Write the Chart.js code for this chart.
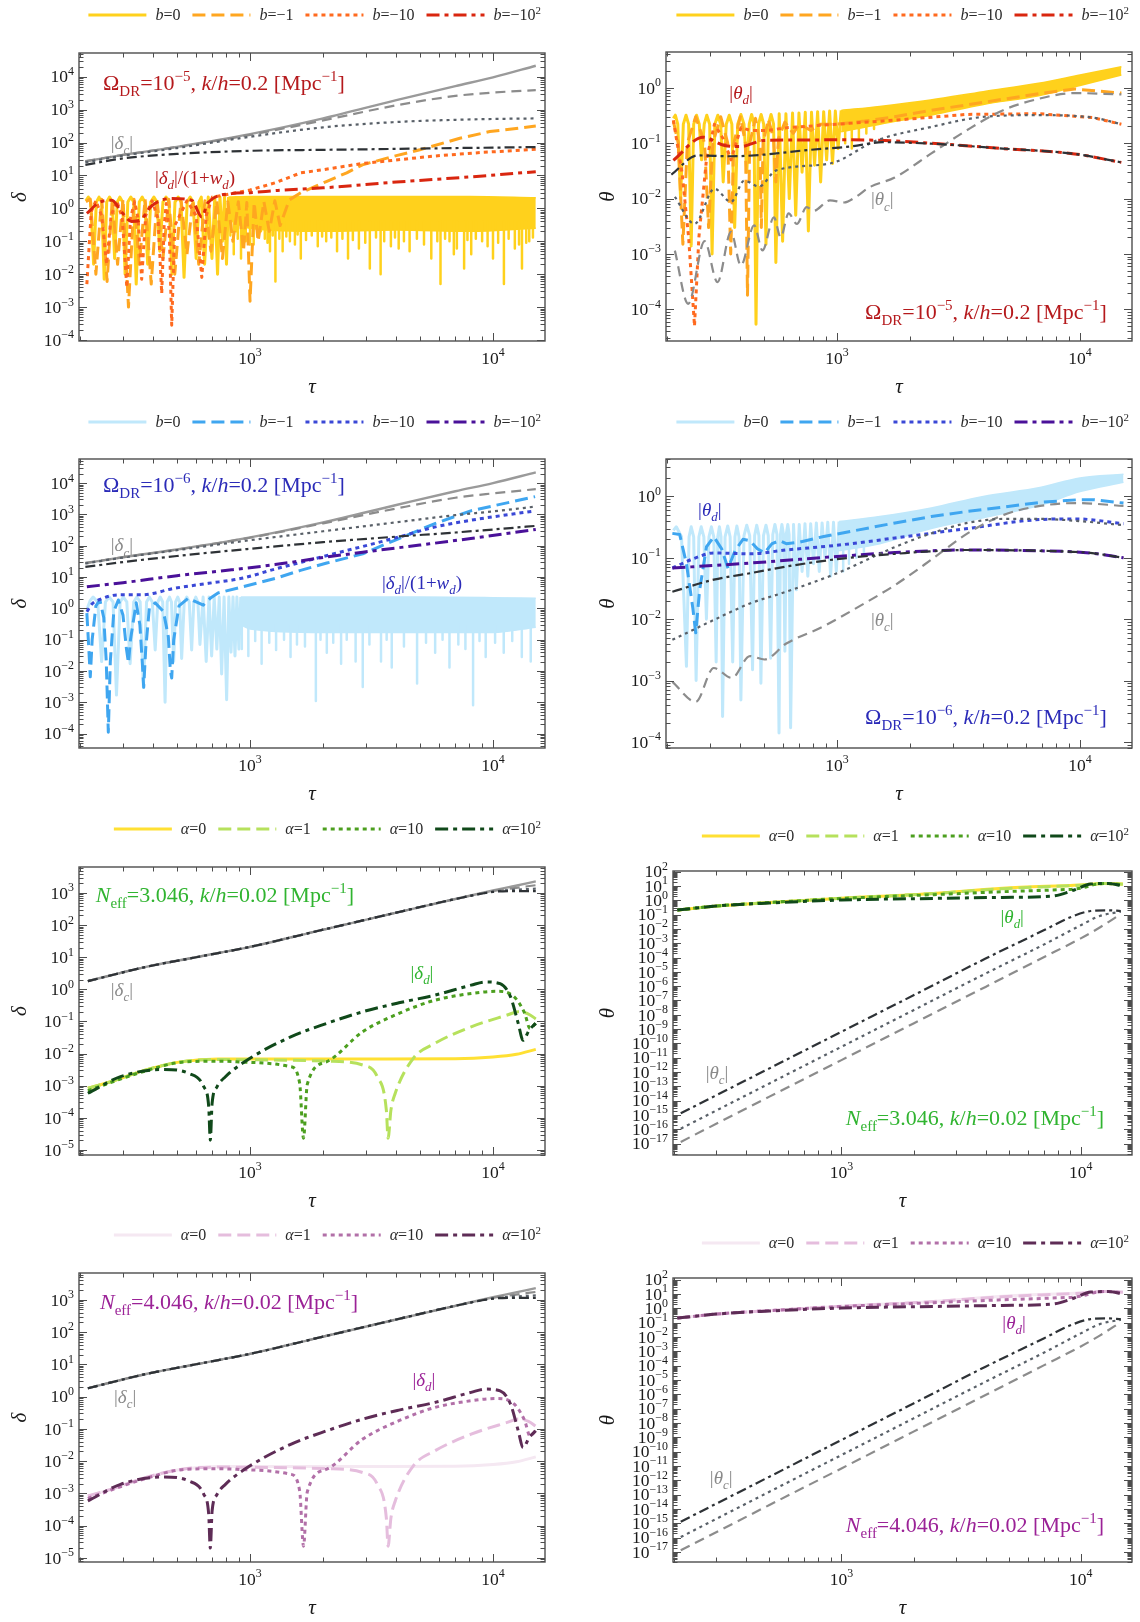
<!DOCTYPE html>
<html>
<head>
<meta charset="utf-8">
<script src="https://cdn.jsdelivr.net/npm/chart.js@4.4.1/dist/chart.umd.min.js"></script>
<style>
  html, body { margin: 0; padding: 0; background: #fff; overflow: hidden; }
  body { position: relative; width: 1140px; height: 1622px; }
  canvas { position: absolute; }
</style>
</head>
<body>
<script>
// ---------- data ----------
const TAU_RANGE = [197.7, 16370];
const TAU_LABELS = [1000, 10000];
const TAU_GRID = [210, 300, 500, 1000, 2000, 4000, 7000, 10000, 15000];

// panel 1: delta, Omega_DR = 1e-5
const P1_C0 = [27, 42, 74, 180, 540, 1950, 5200, 9500, 21500];
const P1_C1 = [27, 42, 73, 170, 470, 1350, 2600, 3300, 3900];
const P1_C10 = [25, 40, 68, 150, 290, 420, 490, 520, 540];
const P1_C100 = [21, 33, 45, 56, 60, 64, 68, 70, 73];
const P1_B0 = [[211,1.7],[216,2.2],[221,1.55],[227,0.02],[233,1.55],[239,2.2],[245,1.55],[251,0.007],[257,1.55],[264,2.2],[271,1.55],[277,0.03],[284,1.55],[291,2.2],[299,1.55],[306,0.01],[314,1.55],[323,2.2],[332,1.55],[340,0.005],[350,1.55],[360,2.2],[369,1.55],[379,0.02],[390,1.55],[402,2.2],[414,1.55],[425,0.05],[438,1.55],[451,2.2],[464,1.55],[477,0.01],[491,1.55],[506,2.2],[520,1.55],[535,0.008],[551,1.55],[567,2.2],[583,1.55],[600,0.03],[616,1.55],[630,2.2],[650,0.02],[673,2.2],[697,0.03],[716,2.2],[735,0.01],[752,2.2],[770,0.1],[785,2.2],[800,0.02],[815,2.2]];
const P1_B0_BAND = [[815,2.2,0.45],[1000,2.3,0.25],[2000,2.3,0.2],[4000,2.3,0.22],[8000,2.3,0.2],[15000,2.1,0.25]];
const P1_B0_SPIKES = [[830,0.15],[857,0.04],[875,0.2],[890,0.12],[918,0.03],[940,0.15],[960,0.1],[1000,0.08],[1035,0.08],[1070,0.15],[1109,0.2],[1150,0.12],[1180,0.09],[1208,0.05],[1240,0.15],[1272,0.006],[1320,0.12],[1362,0.05],[1410,0.14],[1459,0.1],[1530,0.08],[1570,0.16],[1618,0.03],[1700,0.11],[1795,0.15],[1900,0.07],[1980,0.14],[2058,0.1],[2160,0.13],[2281,0.05],[2400,0.12],[2531,0.03],[2650,0.11],[2806,0.06],[2980,0.09],[3112,0.015],[3300,0.13],[3447,0.01],[3566,0.1],[3800,0.07],[3950,0.13],[4091,0.06],[4300,0.1],[4537,0.05],[4862,0.12],[5200,0.08],[5572,0.03],[5900,0.1],[6080,0.005],[6350,0.12],[6622,0.1],[6900,0.04],[7100,0.06],[7605,0.015],[7850,0.11],[8135,0.04],[8500,0.12],[9020,0.1],[9500,0.07],[10000,0.03],[10500,0.09],[11090,0.005],[11600,0.12],[12300,0.06],[12800,0.08],[13160,0.015],[13700,0.09],[14100,0.1],[14600,0.13]];
const P1_B1 = [[211,1.6],[220,1.9],[232,0.01],[245,1.9],[258,0.006],[271,1.9],[285,0.02],[300,1.9],[316,0.001],[333,1.9],[350,0.02],[370,1.9],[392,0.005],[414,1.9],[438,0.03],[463,1.9],[490,0.01],[520,1.8],[550,0.04],[582,1.8],[615,0.02],[652,1.7],[690,0.05],[730,1.7],[770,0.03],[810,1.6],[850,0.1],[895,1.6],[940,0.05],[970,1.5],[1000,0.0015],[1040,1.5],[1080,0.1],[1140,1.6],[1200,0.2],[1265,1.7],[1330,0.3],[1450,1.8],[1620,3.0],[2060,6.5],[2500,12],[2900,21],[4000,40],[5000,60],[7300,135],[9700,215],[15000,316]];
const P1_B10 = [[213,0.005],[222,0.8],[232,1.7],[245,0.6],[257,0.02],[268,0.6],[283,1.7],[298,0.5],[311,0.004],[322,0.5],[335,1.6],[346,0.5],[358,0.007],[372,0.6],[395,1.7],[418,0.5],[433,0.0026],[443,0.3],[452,1.4],[465,0.2],[476,0.00028],[490,0.3],[550,1.7],[600,0.6],[633,0.008],[660,0.6],[700,2.2],[840,2.8],[1000,3.6],[1270,6],[1620,12],[2000,15],[2900,23],[5760,39],[9000,50],[15000,62]];
const P1_B100 = [[213,0.7],[241,1.55],[270,1.75],[295,0.8],[325,0.4],[352,0.43],[394,1.2],[476,2.0],[576,1.75],[633,0.55],[672,1.5],[840,2.8],[1000,3.0],[1300,3.5],[2000,4.2],[4000,6.3],[8000,9],[15000,13]];

// panel 2: theta, Omega_DR = 1e-5
const P2_C1 = [[215,0.00115],[244,0.000126],[285,0.0017],[322,0.00031],[366,0.0025],[402,0.00062],[456,0.0033],[493,0.00116],[550,0.0046],[586,0.002],[632,0.0054],[683,0.0035],[750,0.007],[800,0.006],[935,0.0093],[1070,0.0085],[1186,0.0105],[1360,0.016],[1727,0.024],[2427,0.064],[3413,0.17],[4800,0.39],[6750,0.63],[9500,0.8],[14800,0.76]];
const P2_C10 = [[215,0.0107],[259,0.0035],[313,0.015],[366,0.0087],[415,0.021],[477,0.0165],[560,0.032],[937,0.043],[1455,0.112],[2427,0.195],[4050,0.3],[6750,0.32],[11250,0.29],[14800,0.22]];
const P2_C100 = [[208,0.027],[267,0.06],[366,0.058],[500,0.062],[730,0.074],[1130,0.087],[1546,0.104],[2427,0.098],[4800,0.08],[9500,0.064],[14800,0.045]];
const P2_B0 = [[212,0.28],[216,0.32],[221,0.22],[227,0.01],[233,0.22],[239,0.32],[245,0.22],[251,0.0014],[257,0.22],[264,0.32],[271,0.22],[277,0.05],[284,0.22],[291,0.32],[299,0.22],[306,0.001],[314,0.22],[323,0.32],[332,0.22],[340,0.02],[350,0.22],[360,0.32],[369,0.22],[379,0.003],[390,0.22],[402,0.33],[414,0.22],[425,0.03],[435,0.22],[445,0.33],[455,0.22],[464,0.000054],[475,0.22],[487,0.33],[499,0.22],[510,0.0015],[522,0.22],[535,0.33],[548,0.22],[560,0.0007],[578,0.34],[597,0.0017],[616,0.34],[636,0.01],[656,0.35],[676,0.005],[697,0.35],[718,0.03],[740,0.36],[762,0.0026],[785,0.36],[808,0.04],[832,0.37],[856,0.02],[881,0.37],[906,0.05],[932,0.38],[958,0.043],[984,0.38],[1010,0.08],[1040,0.39]];
const P2_B0_BAND = [[1040,0.39,0.16],[1500,0.46,0.22],[2427,0.6,0.32],[4000,0.85,0.5],[6750,1.2,0.72],[10000,1.7,1.1],[14800,2.4,1.7]];
const P2_B0_SPIKES = [[1080,0.1],[1150,0.08],[1230,0.12],[1320,0.15],[1420,0.18]];
const P2_B1 = [[212,0.25],[222,0.1],[232,0.0015],[242,0.1],[262,0.3],[285,0.1],[296,0.003],[308,0.1],[332,0.3],[355,0.1],[365,0.001],[376,0.1],[400,0.3],[420,0.1],[428,0.00018],[437,0.1],[462,0.28],[481,0.1],[488,0.003],[496,0.1],[522,0.27],[548,0.12],[560,0.02],[574,0.12],[610,0.24],[660,0.15],[700,0.22],[780,0.17],[850,0.22],[1000,0.22],[1300,0.25],[1727,0.3],[2427,0.39],[4050,0.55],[6750,0.78],[9500,0.95],[14800,0.8]];
const P2_B10 = [[212,0.26],[230,0.03],[245,0.002],[259,0.00005],[270,0.002],[290,0.05],[313,0.22],[340,0.12],[366,0.05],[402,0.19],[440,0.17],[520,0.17],[620,0.19],[1000,0.22],[1727,0.26],[3413,0.33],[6750,0.34],[11250,0.29],[14800,0.22]];
const P2_B100 = [[212,0.049],[281,0.128],[344,0.091],[402,0.087],[500,0.112],[700,0.114],[1000,0.115],[1727,0.11],[2427,0.1],[4800,0.08],[9500,0.064],[14800,0.045]];

// panel 3: delta, Omega_DR = 1e-6
const P3_C0 = [28, 43, 76, 185, 560, 2000, 5500, 10000, 22000];
const P3_C1 = [28, 43, 75, 180, 520, 1550, 3400, 4700, 6400];
const P3_C10 = [27, 42, 72, 150, 290, 560, 950, 1250, 1780];
const P3_C100 = [21, 30, 47, 80, 130, 195, 265, 330, 430];
const P3_B0 = [[213,0.9],[220,1.8],[226,2.3],[236,1.6],[245,0.02],[254,1.6],[263,2.3],[273,1.6],[282,0.0017],[292,1.6],[301,2.3],[311,1.6],[321,0.017],[332,1.6],[342,2.3],[353,1.6],[364,0.003],[375,1.6],[385,2.3],[396,1.6],[407,0.047],[417,1.6],[427,2.3],[437,1.6],[447,0.001],[456,1.6],[466,2.3],[475,1.6],[485,0.02],[494,1.6],[504,2.3],[513,1.6],[523,0.025],[536,1.6],[549,2.3],[562,1.6],[575,0.047],[587,1.6],[598,2.3],[610,1.6],[622,0.07],[641,2.3],[660,0.02],[678,2.3],[695,0.03],[712,2.3],[730,0.05],[747,2.3],[764,0.008],[782,2.3],[801,0.0012],[818,2.3],[835,0.04],[851,2.3],[867,0.03],[883,2.3],[900,0.05],[916,2.3]];
const P3_B0_BAND = [[916,2.3,0.3],[1000,2.3,0.22],[2000,2.3,0.17],[5000,2.3,0.17],[10000,2.2,0.17],[15000,2.1,0.25]];
const P3_B0_SPIKES = [[925,0.05],[984,0.03],[1050,0.09],[1116,0.017],[1200,0.08],[1280,0.047],[1380,0.1],[1468,0.028],[1560,0.07],[1683,0.06],[1866,0.0011],[1950,0.1],[2070,0.038],[2200,0.08],[2370,0.017],[2500,0.1],[2720,0.02],[2910,0.0031],[3100,0.07],[3460,0.02],[3650,0.1],[3830,0.013],[4300,0.06],[4870,0.004],[5300,0.08],[5780,0.038],[6200,0.1],[6620,0.013],[7200,0.07],[7700,0.05],[8280,0.0008],[8800,0.09],[9330,0.028],[10200,0.08],[11070,0.038],[12000,0.09],[13140,0.028],[14300,0.02]];
const P3_B1 = [[213,0.7],[217,0.05],[220,0.0065],[224,0.1],[232,1.2],[241,1.85],[250,0.5],[256,0.02],[261,0.00011],[266,0.02],[275,0.8],[287,1.85],[300,0.6],[310,0.05],[316,0.018],[322,0.1],[340,1.5],[352,0.3],[360,0.02],[365,0.003],[372,0.05],[385,1.0],[407,1.5],[440,0.8],[461,0.125],[470,0.01],[476,0.006],[485,0.1],[510,1.2],[557,2.1],[600,1.6],[642,1.27],[690,2.2],[738,3.1],[924,4.8],[1270,9],[1600,16],[2070,28],[2910,55],[4100,170],[5800,520],[8100,1300],[14900,3700]];
const P3_B10 = [[213,0.78],[224,1.4],[238,1.85],[287,2.7],[358,2.7],[491,4.4],[674,6.3],[924,9.1],[1268,18],[2000,45],[2910,95],[4100,190],[5800,400],[8100,650],[14900,1300]];
const P3_B100 = [[213,4.9],[300,6.6],[500,11],[840,17],[1268,25],[2000,42],[2910,62],[5000,105],[8100,170],[15000,330]];

// panel 4: theta, Omega_DR = 1e-6
const P4_C1 = [[210,0.00095],[262,0.00045],[311,0.0016],[369,0.0011],[438,0.0025],[503,0.0022],[618,0.004],[872,0.0075],[1229,0.016],[1733,0.036],[2443,0.093],[3445,0.25],[4857,0.5],[6850,0.7],[9660,0.78],[15100,0.7]];
const P4_C10 = [[210,0.0046],[311,0.0097],[438,0.018],[618,0.028],[1000,0.056],[1733,0.15],[2443,0.25],[3445,0.37],[4857,0.43],[6850,0.43],[9660,0.4],[15100,0.34]];
const P4_C100 = [[210,0.028],[311,0.044],[438,0.056],[618,0.072],[1000,0.095],[1733,0.116],[3445,0.134],[6850,0.13],[11000,0.12],[15100,0.1]];
const P4_B0 = [[212,0.28],[218,0.32],[229,0.22],[240,0.0017],[246,0.22],[251,0.32],[257,0.22],[263,0.001],[270,0.22],[276,0.32],[283,0.22],[290,0.01],[297,0.22],[304,0.32],[311,0.22],[318,0.002],[323,0.22],[328,0.32],[333,0.22],[338,0.00026],[346,0.22],[355,0.33],[363,0.22],[372,0.002],[380,0.22],[387,0.33],[395,0.22],[402,0.00048],[414,0.23],[425,0.34],[437,0.23],[449,0.0015],[458,0.23],[467,0.34],[477,0.23],[486,0.0009],[498,0.23],[510,0.34],[521,0.23],[533,0.0023],[544,0.24],[555,0.35],[566,0.24],[577,0.00014],[585,0.24],[593,0.35],[602,0.24],[610,0.003],[618,0.24],[627,0.35],[635,0.24],[644,0.00017],[662,0.35],[680,0.03],[699,0.35],[718,0.06],[738,0.36],[758,0.05],[779,0.36],[800,0.08],[822,0.37],[845,0.06],[868,0.37],[892,0.1],[916,0.38],[941,0.05],[967,0.38],[993,0.06],[1020,0.39]];
const P4_B0_BAND = [[1020,0.39,0.13],[1500,0.47,0.17],[2443,0.65,0.3],[4000,1.0,0.45],[6850,1.4,0.72],[10000,2.0,1.2],[15100,2.3,1.7]];
const P4_B0_SPIKES = [[1060,0.06],[1120,0.08],[1200,0.1],[1290,0.12]];
const P4_B1 = [[210,0.25],[225,0.24],[240,0.08],[255,0.015],[262,0.006],[272,0.03],[290,0.15],[311,0.22],[335,0.14],[356,0.067],[380,0.13],[410,0.2],[438,0.19],[470,0.14],[503,0.12],[540,0.17],[580,0.19],[618,0.17],[700,0.18],[872,0.22],[1229,0.285],[1733,0.37],[2443,0.47],[3445,0.57],[4857,0.67],[6850,0.8],[9660,0.88],[11500,0.88],[15100,0.78]];
const P4_B10 = [[210,0.068],[262,0.1],[311,0.12],[438,0.116],[618,0.134],[1000,0.16],[1733,0.21],[3445,0.3],[6850,0.42],[9660,0.43],[15100,0.36]];
const P4_B100 = [[210,0.068],[438,0.082],[1000,0.105],[1733,0.122],[3445,0.134],[6850,0.13],[11000,0.12],[15100,0.1]];

// panels 5 and 7: delta, N_eff = 3.046 / 4.046 (curves coincide in the figure)
const P5_TAU = [215, 373, 600, 1000, 2000, 4000, 7000, 10000, 12000, 15000];
const P5_C0 = [1.8, 5, 10, 21, 72, 245, 650, 1200, 1600, 2300];
const P5_C1 = [1.8, 5, 10, 21, 72, 245, 650, 1150, 1400, 1750];
const P5_C10 = [1.8, 5, 10, 21, 72, 245, 650, 1100, 1250, 1360];
const P5_C100 = [1.8, 5, 10, 21, 72, 245, 650, 1080, 1150, 1150];
const P5_A0 = [[215,0.00083],[265,0.0013],[373,0.0031],[525,0.0056],[740,0.0068],[1000,0.0068],[3000,0.0068],[7000,0.0069],[10000,0.0078],[12500,0.0095],[15000,0.0135]];
const P5_A1 = [[215,0.00083],[265,0.0013],[373,0.0031],[525,0.0056],[740,0.0065],[1000,0.0064],[2070,0.0058],[2910,0.0044],[3340,0.0019],[3640,0.00017],[3700,0.000023],[3800,0.00017],[3960,0.00058],[4700,0.0071],[5780,0.021],[8130,0.068],[11450,0.158],[12700,0.2],[14000,0.17],[15000,0.12]];
const P5_A10 = [[215,0.0007],[373,0.0029],[525,0.0054],[740,0.0058],[1000,0.0053],[1470,0.0039],[1600,0.0012],[1660,0.000023],[1720,0.0011],[2070,0.0056],[2910,0.048],[4100,0.178],[5780,0.46],[8130,0.74],[10300,0.87],[12200,0.59],[13500,0.18],[14200,0.06],[15000,0.09]];
const P5_A100 = [[215,0.00058],[293,0.0019],[442,0.0032],[560,0.0024],[645,0.00093],[676,0.00022],[686,0.00002],[698,0.00028],[730,0.0009],[792,0.0019],[1000,0.0071],[1470,0.033],[2070,0.087],[2910,0.2],[4100,0.38],[5780,0.66],[8130,1.35],[9330,1.7],[10700,1.5],[11800,0.59],[12700,0.087],[13300,0.026],[14100,0.054],[15000,0.087]];

// panels 6 and 8: theta, N_eff = 3.046 / 4.046
const P6_A0 = [[206,0.21],[300,0.4],[500,0.7],[1000,1.4],[2430,3],[4700,7],[10000,12],[12500,15],[15000,14]];
const P6_A1 = [[206,0.21],[300,0.4],[500,0.7],[1000,1.4],[2430,3],[4700,6.5],[10000,11.5],[12500,15],[15000,13.5]];
const P6_A10 = [[206,0.21],[300,0.4],[500,0.7],[1000,1.35],[2430,2.5],[4700,4],[7600,5.3],[10000,7],[11500,13],[13000,15],[15000,12]];
const P6_A100 = [[206,0.21],[300,0.4],[500,0.65],[1000,1.05],[2430,1.36],[4700,1.6],[7600,2.0],[9400,5.3],[11000,13.7],[13000,15],[15000,10]];
const P6_C1 = [[213,1.3e-17],[500,1.9e-14],[1000,6.8e-12],[2000,2.5e-9],[4000,8.9e-7],[7000,1.05e-4],[10000,2.2e-3],[12000,0.0126],[14700,0.11]];
const P6_C10 = [[213,1.1e-16],[500,1.6e-13],[1000,5.8e-11],[2000,2.1e-8],[4000,7.6e-6],[7000,8e-4],[10000,0.018],[12000,0.08],[14700,0.16]];
const P6_C100 = [[213,1.3e-15],[500,1.8e-12],[1000,6.5e-10],[2000,2.3e-7],[4000,8.5e-5],[7000,8e-3],[9000,0.063],[11000,0.18],[13000,0.2],[14700,0.18]];

const B_LABELS = ['*b*=0', '*b*=−1', '*b*=−10', '*b*=−10^{2}'];
const A_LABELS = ['*α*=0', '*α*=1', '*α*=10', '*α*=10^{2}'];

// ---------- styles ----------
const FONT = '"Liberation Serif", "DejaVu Serif", serif';
const PANEL_H = 410, X_AXIS_H = 62;
const TICK_SIZE = 17.5, LEGEND_SIZE = 16;
const DASHES = [[], [13, 6], [4, 4], [13, 5, 4, 5]];
const GREY = [
  {color: '#9a9a9a', dash: [], width: 2.4},
  {color: '#8c8c8c', dash: [10, 6], width: 2.2},
  {color: '#596068', dash: [3, 4], width: 2.2},
  {color: '#2e3236', dash: [10, 4, 3, 4], width: 2.2}
];
const family = cols => cols.map((c, i) => ({color: c, dash: DASHES[i], width: 3}));
const RED = family(['#ffd11c', '#ffa620', '#ff6a1f', '#d9260f']);
const BLUE = family(['#c0e8fb', '#3fa6f0', '#3a48d6', '#4a1199']);
const GREEN = family(['#ffe033', '#b6e15c', '#4c9f1f', '#10491a']);
const PINK = family(['#f5e8f2', '#e5bddd', '#b270a8', '#5e2c56']);
const TXT = {red: '#b5191c', blue: '#2b2bb8', green: '#30b430', purple: '#9b2297', grey: '#8a8a8a'};

// ---------- helpers ----------
const pts = pairs => pairs.map(([x, y]) => ({x, y}));
const zip = (xs, ys) => xs.map((x, i) => ({x, y: ys[i]}));
const expText = v => { const e = Math.round(Math.log10(v)); return '10^{' + (e < 0 ? '−' + (-e) : e) + '}'; };

function line(data, st, smooth, extra) {
  return Object.assign({
    data, borderColor: st.color, backgroundColor: st.color, borderDash: st.dash, borderWidth: st.width,
    pointRadius: 0, pointHoverRadius: 0, fill: false, tension: 0, spanGaps: false,
    borderJoinStyle: 'round', cubicInterpolationMode: smooth ? 'monotone' : 'default'
  }, extra || {});
}
function band(rows, st) {
  const s = {color: st.color, dash: [], width: 1.5};
  return [
    line(rows.map(r => ({x: r[0], y: r[1]})), s, true),
    line(rows.map(r => ({x: r[0], y: r[2]})), s, true, {fill: '-1'})
  ];
}
function spikes(pairs, base, st) {
  const out = [];
  pairs.forEach(([x, tip]) => out.push({x, y: base}, {x, y: tip}, {x, y: null}));
  return line(out, {color: st.color, dash: [], width: 2.5}, false);
}

function parseRich(str) {
  const parts = [];
  let it = false, i = 0;
  const isMark = k => (str[k] === '_' || str[k] === '^') && str[k + 1] === '{';
  while (i < str.length) {
    if (str[i] === '*') { it = !it; i++; continue; }
    if (isMark(i)) {
      const j = str.indexOf('}', i);
      parts.push({t: str.slice(i + 2, j), it, sub: str[i] === '_', sup: str[i] === '^'});
      i = j + 1; continue;
    }
    let j = i;
    while (j < str.length && str[j] !== '*' && !isMark(j)) j++;
    parts.push({t: str.slice(i, j), it});
    i = j;
  }
  return parts;
}
function layoutRich(ctx, parts, size) {
  let w = 0;
  const segs = parts.map(p => {
    const s = (p.sub || p.sup) ? size * 0.68 : size;
    const font = (p.it ? 'italic ' : '') + s.toFixed(1) + 'px ' + FONT;
    ctx.font = font;
    const m = ctx.measureText(p.t).width;
    w += m;
    return {p, font, m};
  });
  return {segs, w};
}
function drawRich(ctx, text, x, y, size, color, align) {
  const {segs, w} = layoutRich(ctx, parseRich(text), size);
  let cx = align === 'right' ? x - w : align === 'center' ? x - w / 2 : x;
  ctx.fillStyle = color;
  ctx.textBaseline = 'alphabetic';
  ctx.textAlign = 'left';
  const base = y + size * 0.33;
  segs.forEach(g => {
    ctx.font = g.font;
    const dy = g.p.sub ? size * 0.27 : g.p.sup ? -size * 0.42 : 0;
    ctx.fillText(g.p.t, cx, base + dy);
    cx += g.m;
  });
  return w;
}

// frame with inward ticks on all four sides, plus the power-of-ten tick labels
const framePlugin = {
  id: 'frame',
  afterDatasetsDraw(chart) {
    const {ctx, chartArea: a, scales: {x: xs, y: ys}} = chart;
    ctx.save();
    ctx.setLineDash([]);
    ctx.strokeStyle = '#4d4d4d';
    ctx.lineWidth = 1;
    const seg = (x1, y1, x2, y2) => { ctx.beginPath(); ctx.moveTo(x1, y1); ctx.lineTo(x2, y2); ctx.stroke(); };
    const eachLog = (min, max, fn) => {
      for (let e = Math.floor(Math.log10(min)); e <= Math.ceil(Math.log10(max)); e++) {
        for (let m = 1; m <= 9; m++) {
          const v = m * Math.pow(10, e);
          if (v >= min && v <= max) fn(v, m === 1);
        }
      }
    };
    eachLog(xs.min, xs.max, (v, major) => {
      const p = Math.round(xs.getPixelForValue(v)) + 0.5, L = major ? 8 : 4.5;
      seg(p, a.bottom, p, a.bottom - L); seg(p, a.top, p, a.top + L);
    });
    eachLog(ys.min, ys.max, (v, major) => {
      const p = Math.round(ys.getPixelForValue(v)) + 0.5, L = major ? 8 : 4.5;
      seg(a.left, p, a.left + L, p); seg(a.right, p, a.right - L, p);
    });
    ctx.lineWidth = 1.4;
    ctx.strokeRect(a.left, a.top, a.right - a.left, a.bottom - a.top);
    xs.ticks.forEach(t => drawRich(ctx, expText(t.value), xs.getPixelForValue(t.value), a.bottom + 17, TICK_SIZE, '#1a1a1a', 'center'));
    ys.ticks.forEach(t => drawRich(ctx, expText(t.value), a.left - 5, ys.getPixelForValue(t.value), TICK_SIZE, '#1a1a1a', 'right'));
    ctx.restore();
  }
};

// legend above the frame and the text notes inside it
function decorPlugin(p) {
  return {
    id: 'decor',
    afterDraw(chart) {
      const ctx = chart.ctx, a = chart.chartArea;
      ctx.save();
      let x = p.legRight;
      for (let i = p.legend.length - 1; i >= 0; i--) {
        const it = p.legend[i];
        const {w} = layoutRich(ctx, parseRich(it.text), LEGEND_SIZE);
        x -= w;
        drawRich(ctx, it.text, x, p.legY, LEGEND_SIZE, '#2a2a2a', 'left');
        x -= 9;
        ctx.strokeStyle = it.style.color;
        ctx.lineWidth = 3;
        ctx.setLineDash(it.style.dash);
        ctx.beginPath(); ctx.moveTo(x - 58, p.legY); ctx.lineTo(x, p.legY); ctx.stroke();
        x -= 58 + 12;
      }
      ctx.setLineDash([]);
      p.notes.forEach(n => {
        drawRich(ctx, n.text, a.left + n.fx * (a.right - a.left), a.top + n.fy * (a.bottom - a.top), n.size, n.color, n.align);
      });
      ctx.restore();
    }
  };
}

function buildPanel(p) {
  const cv = document.createElement('canvas');
  cv.width = 570; cv.height = PANEL_H;
  cv.style.left = p.left + 'px'; cv.style.top = p.top + 'px';
  document.body.appendChild(cv);
  const n = p.datasets.length;
  p.datasets.forEach((d, i) => { d.order = n - i; });
  const e0 = Math.ceil(Math.log10(p.yRange[0]) - 1e-9), e1 = Math.floor(Math.log10(p.yRange[1]) + 1e-9);
  const yTicks = [];
  for (let e = e0; e <= e1; e++) yTicks.push({value: Math.pow(10, e)});
  const titleFont = {family: FONT, size: 21, style: 'italic'};
  new Chart(cv, {
    type: 'line',
    data: {datasets: p.datasets},
    options: {
      responsive: false, animation: false, devicePixelRatio: 1,
      layout: {padding: {left: 0, right: 570 - p.areaRight, top: p.areaTop, bottom: PANEL_H - p.areaBottom - X_AXIS_H}},
      plugins: {legend: {display: false}, tooltip: {enabled: false}},
      scales: {
        x: {
          type: 'logarithmic', min: TAU_RANGE[0], max: TAU_RANGE[1],
          afterBuildTicks: s => { s.ticks = TAU_LABELS.map(v => ({value: v})); },
          afterFit: s => { s.height = X_AXIS_H; },
          ticks: {display: false, autoSkip: false},
          grid: {display: false, drawTicks: false}, border: {display: false},
          title: {display: true, text: 'τ', font: titleFont, color: '#1a1a1a', padding: {top: 0, bottom: 3}}
        },
        y: {
          type: 'logarithmic', min: p.yRange[0], max: p.yRange[1],
          afterBuildTicks: s => { s.ticks = yTicks.slice(); },
          afterFit: s => { s.width = p.areaLeft; },
          ticks: {display: false, autoSkip: false},
          grid: {display: false, drawTicks: false}, border: {display: false},
          title: {display: true, text: p.yTitle, font: titleFont, color: '#1a1a1a', padding: {top: p.yTitlePad, bottom: 0}}
        }
      }
    },
    plugins: [framePlugin, decorPlugin(p)]
  });
}

const legendOf = (labels, fam) => labels.map((t, i) => ({text: t, style: fam[i]}));
const greyDelta = (tau, c) => c.map((vals, i) => line(zip(tau, vals), GREY[i], true));
const main = (txt, fx, fy, color, align) => ({text: txt, fx, fy, size: 22, color, align});
const tag = (txt, fx, fy, color) => ({text: txt, fx, fy, size: 19, color, align: 'center'});
const DC = '|*δ_{c}*|', DD = '|*δ_{d}*|', TC = '|*θ_{c}*|', TD = '|*θ_{d}*|', DDW = '|*δ_{d}*|/(1+*w_{d}*)';
const OM5 = 'Ω_{DR}=10^{−5}, *k*/*h*=0.2 [Mpc^{−1}]';
const OM6 = 'Ω_{DR}=10^{−6}, *k*/*h*=0.2 [Mpc^{−1}]';
const NE3 = '*N*_{eff}=3.046, *k*/*h*=0.02 [Mpc^{−1}]';
const NE4 = '*N*_{eff}=4.046, *k*/*h*=0.02 [Mpc^{−1}]';

function deltaNeff(fam) {
  return [
    line(pts(P5_A0), fam[0], true), line(pts(P5_A1), fam[1], true),
    line(pts(P5_A10), fam[2], true), line(pts(P5_A100), fam[3], true),
    ...greyDelta(P5_TAU, [P5_C0, P5_C1, P5_C10, P5_C100])
  ];
}
function thetaNeff(fam) {
  return [
    line(pts(P6_A0), fam[0], true), line(pts(P6_A1), fam[1], true),
    line(pts(P6_A10), fam[2], true), line(pts(P6_A100), fam[3], true),
    line(pts(P6_C1), GREY[1], true), line(pts(P6_C10), GREY[2], true), line(pts(P6_C100), GREY[3], true)
  ];
}

const PANELS = [
  {left: 0, top: 0, areaLeft: 79, areaRight: 545, areaTop: 53, areaBottom: 341, yRange: [Math.pow(10, -4.03), Math.pow(10, 4.72)],
   yTitle: 'δ', yTitlePad: 8, legY: 15, legRight: 541, legend: legendOf(B_LABELS, RED),
   datasets: [...band(P1_B0_BAND, RED[0]), spikes(P1_B0_SPIKES, 0.4, RED[0]), line(pts(P1_B0), RED[0], false),
     line(pts(P1_B1), RED[1], false), line(pts(P1_B10), RED[2], false), line(pts(P1_B100), RED[3], true),
     ...greyDelta(TAU_GRID, [P1_C0, P1_C1, P1_C10, P1_C100])],
   notes: [main(OM5, 0.0515, 0.104, TXT.red, 'left'), tag(DC, 0.092, 0.31, TXT.grey), tag(DDW, 0.249, 0.434, TXT.red)]},
  {left: 570, top: 0, areaLeft: 96, areaRight: 562, areaTop: 52, areaBottom: 341, yRange: [Math.pow(10, -4.57), Math.pow(10, 0.645)],
   yTitle: 'θ', yTitlePad: 26, legY: 15, legRight: 559, legend: legendOf(B_LABELS, RED),
   datasets: [...band(P2_B0_BAND, RED[0]), spikes(P2_B0_SPIKES, 0.2, RED[0]), line(pts(P2_B0), RED[0], false),
     line(pts(P2_B1), RED[1], false), line(pts(P2_B10), RED[2], false), line(pts(P2_B100), RED[3], true),
     line(pts(P2_C1), GREY[1], true), line(pts(P2_C10), GREY[2], true), line(pts(P2_C100), GREY[3], true)],
   notes: [main(OM5, 0.946, 0.9, TXT.red, 'right'), tag(TD, 0.161, 0.142, TXT.red), tag(TC, 0.464, 0.509, TXT.grey)]},
  {left: 0, top: 402, areaLeft: 79, areaRight: 545, areaTop: 57, areaBottom: 346, yRange: [Math.pow(10, -4.46), Math.pow(10, 4.77)],
   yTitle: 'δ', yTitlePad: 8, legY: 20, legRight: 541, legend: legendOf(B_LABELS, BLUE),
   datasets: [...band(P3_B0_BAND, BLUE[0]), spikes(P3_B0_SPIKES, 0.3, BLUE[0]), line(pts(P3_B0), BLUE[0], false),
     line(pts(P3_B1), BLUE[1], false), line(pts(P3_B10), BLUE[2], true), line(pts(P3_B100), BLUE[3], true),
     ...greyDelta(TAU_GRID, [P3_C0, P3_C1, P3_C10, P3_C100])],
   notes: [main(OM6, 0.0515, 0.09, TXT.blue, 'left'), tag(DC, 0.092, 0.298, TXT.grey), tag(DDW, 0.736, 0.429, TXT.blue)]},
  {left: 570, top: 402, areaLeft: 96, areaRight: 562, areaTop: 57, areaBottom: 346, yRange: [Math.pow(10, -4.1), Math.pow(10, 0.61)],
   yTitle: 'θ', yTitlePad: 26, legY: 20, legRight: 559, legend: legendOf(B_LABELS, BLUE),
   datasets: [...band(P4_B0_BAND, BLUE[0]), spikes(P4_B0_SPIKES, 0.2, BLUE[0]), line(pts(P4_B0), BLUE[0], false),
     line(pts(P4_B1), BLUE[1], false), line(pts(P4_B10), BLUE[2], true), line(pts(P4_B100), BLUE[3], true),
     line(pts(P4_C1), GREY[1], true), line(pts(P4_C10), GREY[2], true), line(pts(P4_C100), GREY[3], true)],
   notes: [main(OM6, 0.946, 0.893, TXT.blue, 'right'), tag(TD, 0.094, 0.176, TXT.blue), tag(TC, 0.464, 0.557, TXT.grey)]},
  {left: 0, top: 810, areaLeft: 79, areaRight: 545, areaTop: 57, areaBottom: 345, yRange: [Math.pow(10, -5.16), Math.pow(10, 3.81)],
   yTitle: 'δ', yTitlePad: 8, legY: 19, legRight: 541, legend: legendOf(A_LABELS, GREEN),
   datasets: deltaNeff(GREEN),
   notes: [main(NE3, 0.036, 0.097, TXT.green, 'left'), tag(DC, 0.092, 0.427, TXT.grey), tag(DD, 0.736, 0.368, TXT.green)]},
  {left: 570, top: 810, areaLeft: 103, areaRight: 562, areaTop: 61, areaBottom: 345, yRange: [Math.pow(10, -17.8), Math.pow(10, 2.05)],
   yTitle: 'θ', yTitlePad: 26, legY: 26, legRight: 559, legend: legendOf(A_LABELS, GREEN),
   datasets: thetaNeff(GREEN),
   notes: [main(NE3, 0.939, 0.87, TXT.green, 'right'), tag(TD, 0.739, 0.162, TXT.green), tag(TC, 0.096, 0.711, TXT.grey)]},
  {left: 0, top: 1215, areaLeft: 79, areaRight: 545, areaTop: 58, areaBottom: 347, yRange: [Math.pow(10, -5.13), Math.pow(10, 3.83)],
   yTitle: 'δ', yTitlePad: 8, legY: 20, legRight: 541, legend: legendOf(A_LABELS, PINK),
   datasets: deltaNeff(PINK),
   notes: [main(NE4, 0.045, 0.1, TXT.purple, 'left'), tag(DC, 0.099, 0.429, TXT.grey), tag(DD, 0.74, 0.37, TXT.purple)]},
  {left: 570, top: 1215, areaLeft: 103, areaRight: 562, areaTop: 63, areaBottom: 347, yRange: [Math.pow(10, -17.7), Math.pow(10, 2.12)],
   yTitle: 'θ', yTitlePad: 26, legY: 28, legRight: 559, legend: legendOf(A_LABELS, PINK),
   datasets: thetaNeff(PINK),
   notes: [main(NE4, 0.939, 0.87, TXT.purple, 'right'), tag(TD, 0.743, 0.158, TXT.purple), tag(TC, 0.105, 0.704, TXT.grey)]}
];

PANELS.forEach(buildPanel);
</script>
</body>
</html>
